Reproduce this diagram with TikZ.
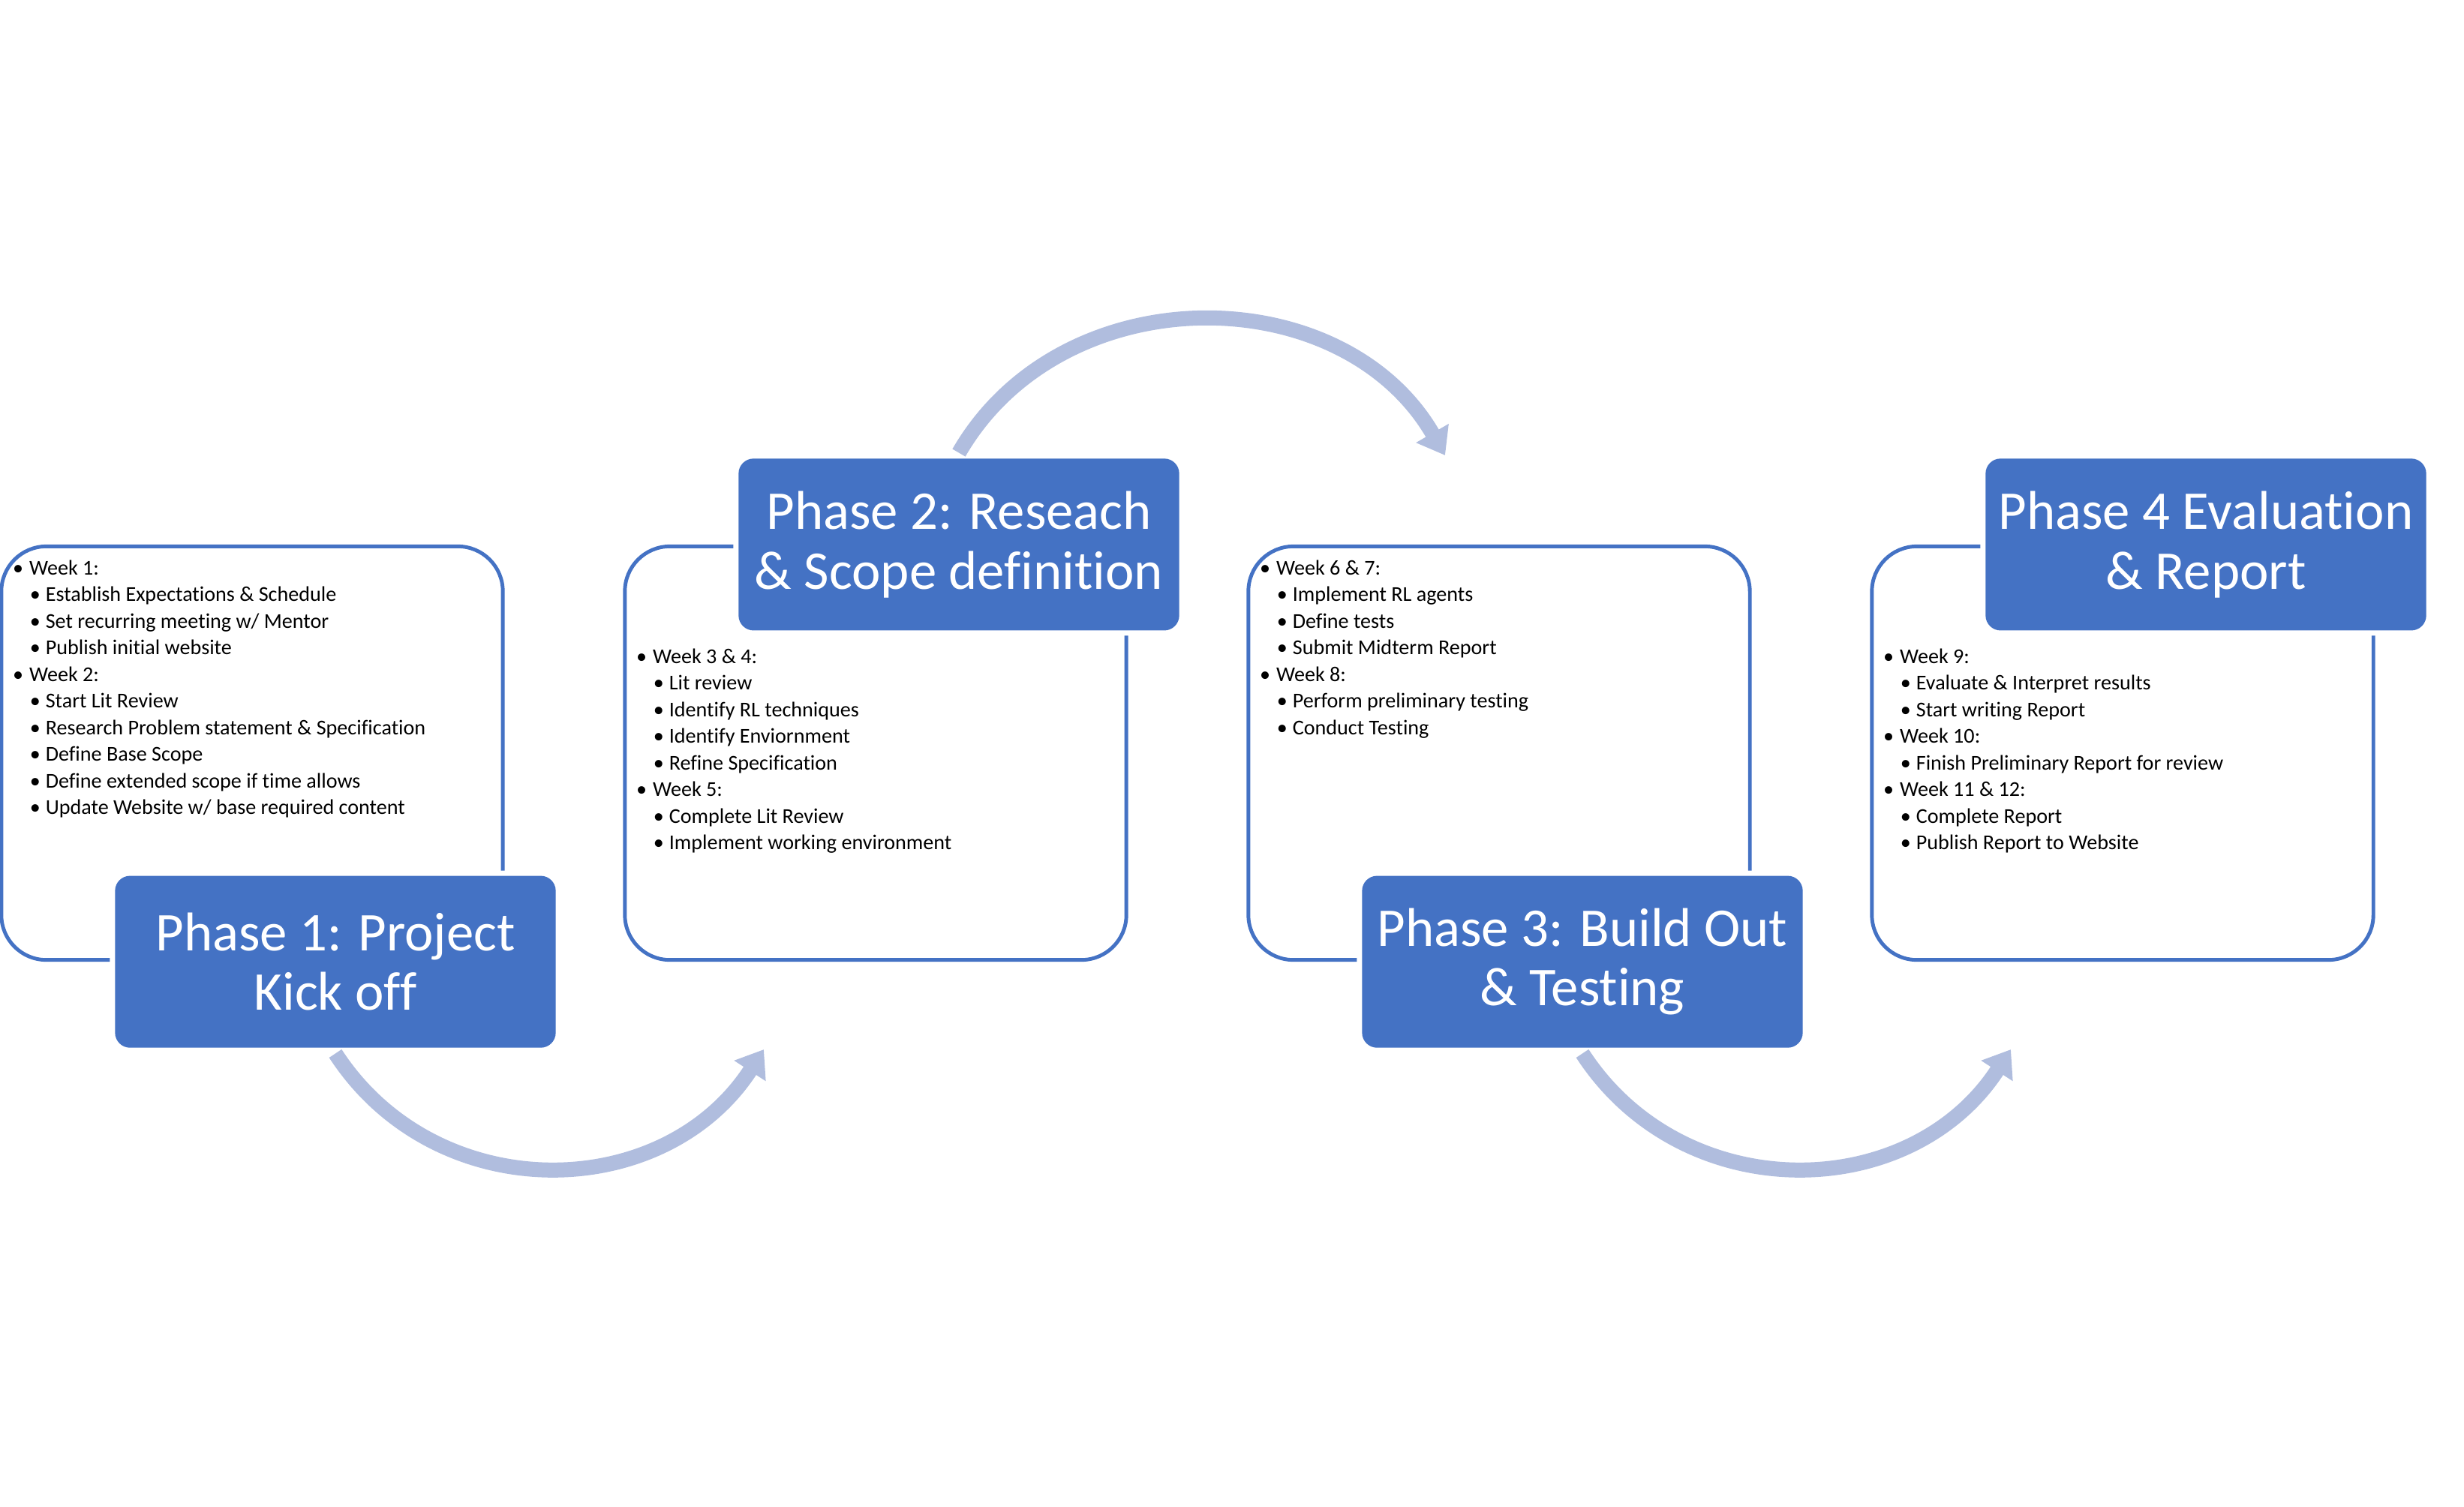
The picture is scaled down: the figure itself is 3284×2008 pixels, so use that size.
\documentclass[tikz,border=0pt]{standalone}
\usepackage{fontspec}
\setmainfont{Carlito}[Ligatures=NoCommon]
\usetikzlibrary{positioning,calc,arrows.meta}
\definecolor{phaseblue}{RGB}{68,114,196}
\definecolor{arcblue}{RGB}{176,189,222}
\tikzset{
	weekbox/.style={draw=phaseblue,line width=1.4pt,rounded corners=0.6cm,minimum width=6.68cm,minimum height=5.51cm,inner sep=0pt},
	phasebox/.style={fill=phaseblue,text=white,rounded corners=0.2cm,minimum width=5.87cm,minimum height=2.29cm,align=center,font=\fontsize{20.7}{22.6}\selectfont,preaction={draw=white,line width=4pt}},
	tasks/.style={anchor=north west,align=left,inner sep=0pt,font=\fontsize{8}{10.1}\selectfont},
	flow/.style={draw=arcblue,line width=0.2cm,-{Triangle[length=0.34cm,width=0.48cm]}}
}
\newcommand{\wk}[1]{\makebox[2.3pt][c]{\textbullet}\hspace{3.1pt}#1}
\newcommand{\tsk}[1]{\hspace{6.5pt}\makebox[2.3pt][c]{\textbullet}\hspace{2.8pt}#1}

\begin{document}
\begin{tikzpicture}[x=0.01cm,y=0.01cm]
	\def\ecart{831}
\useasboundingbox (0,0) rectangle (3284,-2008);

%Cadres
\foreach \i in {1,...,4} {
	\node[weekbox] (b\i) at ({336+(\i-1)*\ecart},-1004) {};
}

%Titres des phases
\foreach \i/\s/\titre in {1/south/{Phase 1: Project\\Kick off},2/north/{Phase 2: Reseach\\\& Scope definition},3/south/{Phase 3: Build Out\\\& Testing},4/north/{Phase 4 Evaluation\\\& Report}} {
	\node[phasebox] (p\i) at ($(b\i.\s)+(111,0)$) {\titre};
}

%Listes
\node[tasks] (l1) at ($(b1.north west)+(20,-20)$) {\wk{Week 1:}\\
	\tsk{Establish Expectations \& Schedule}\\
	\tsk{Set recurring meeting w/ Mentor}\\
	\tsk{Publish initial website}\\
	\wk{Week 2:}\\
	\tsk{Start Lit Review}\\
	\tsk{Research Problem statement \& Specification}\\
	\tsk{Define Base Scope}\\
	\tsk{Define extended scope if time allows}\\
	\tsk{Update Website w/ base required content}};
\node[tasks] (l2) at ($(b2.north west)+(20,-138)$) {\wk{Week 3 \& 4:}\\
	\tsk{Lit review}\\
	\tsk{Identify RL techniques}\\
	\tsk{Identify Enviornment}\\
	\tsk{Refine Specification}\\
	\wk{Week 5:}\\
	\tsk{Complete Lit Review}\\
	\tsk{Implement working environment}};
\node[tasks] (l3) at ($(b3.north west)+(20,-20)$) {\wk{Week 6 \& 7:}\\
	\tsk{Implement RL agents}\\
	\tsk{Define tests}\\
	\tsk{Submit Midterm Report}\\
	\wk{Week 8:}\\
	\tsk{Perform preliminary testing}\\
	\tsk{Conduct Testing}};
\node[tasks] (l4) at ($(b4.north west)+(20,-138)$) {\wk{Week 9:}\\
	\tsk{Evaluate \& Interpret results}\\
	\tsk{Start writing Report}\\
	\wk{Week 10:}\\
	\tsk{Finish Preliminary Report for review}\\
	\wk{Week 11 \& 12:}\\
	\tsk{Complete Report}\\
	\tsk{Publish Report to Website}};

%Fleches
\coordinate (e1) at (1018,-1399);
\coordinate (e2) at (1926,-607);
\coordinate (e3) at (2680,-1399);
\draw[flow] ([yshift=-2pt]p1.south) to[out=-57,in=-123,looseness=1.1] (e1);
\draw[flow] ([yshift=2pt]p2.north) to[out=60,in=120,looseness=1.08] (e2);
\draw[flow] ([yshift=-2pt]p3.south) to[out=-57,in=-123,looseness=1.1] (e3);

\end{tikzpicture}
\end{document}
